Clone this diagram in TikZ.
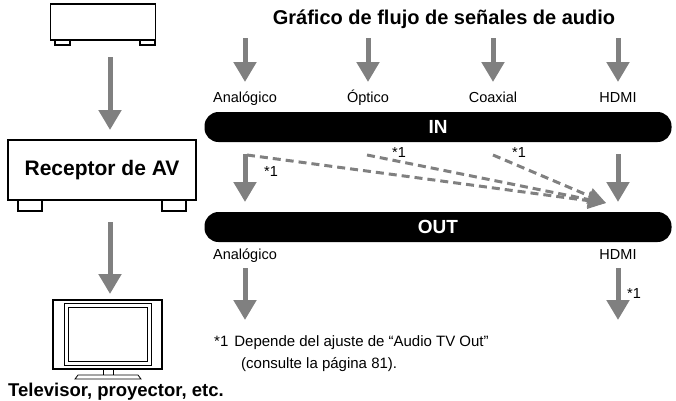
\documentclass[tikz,border=0pt]{standalone}
\usepackage{fontspec}
\setmainfont{Liberation Sans}
\usetikzlibrary{arrows.meta}
\definecolor{flowgray}{RGB}{128,128,128}
\tikzset{
  flow/.style={draw=flowgray,line width=5pt,-{Triangle[width=22pt,length=20pt]}},
  dflow/.style={draw=flowgray,line width=3pt,dash pattern=on 8pt off 5pt,-{Triangle[width=16pt,length=18pt]}},
  bar/.style={fill=black,rounded corners=14pt,minimum width=467pt,minimum height=30pt,text=white,font=\fontsize{19}{19}\bfseries\selectfont,inner sep=0pt},
  lbl/.style={font=\fontsize{14.5}{14.5}\selectfont,inner sep=1pt,anchor=base},
  box/.style={draw,line width=1.2pt,fill=white}
}
\begin{document}
\begin{tikzpicture}[x=1pt,y=-1pt]
\useasboundingbox (0,0) rectangle (676,400);
% devices
\draw[box] (55,40) rectangle (70,45);
\draw[box] (140,40) rectangle (155,45);
\node[box,minimum width=105pt,minimum height=36pt,inner sep=0pt] (src) at (103,22) {};
\draw[box] (18,200) rectangle (42,211);
\draw[box] (162,200) rectangle (186,211);
\node[box,minimum width=188pt,minimum height=60pt,inner sep=0pt,font=\fontsize{21}{21}\bfseries\selectfont] (rcv) at (102,170) {Receptor de AV};
\draw[box] (53,300) rectangle (162,369);
\draw[box,line width=0.8pt] (64,303) rectangle (151,365);
\draw[box,line width=0.8pt] (68,307) rectangle (147,361);
\draw[box,line width=0.8pt] (103,369) rectangle (113,375);
\draw[box,line width=0.8pt] (75,379) -- (78,375) -- (138,375) -- (141,379) -- cycle;
\node[font=\fontsize{18.5}{18.5}\bfseries\selectfont,anchor=base west,inner sep=0pt] (tv) at (8,396) {Televisor, proyector, etc.};
\coordinate (a1) at (110,57);
\coordinate (a2) at (110,130);
\coordinate (a3) at (110,222);
\coordinate (a4) at (110,294);
\draw[flow] (a1) -- (a2);
\draw[flow] (a3) -- (a4);
% flow chart
\node[font=\fontsize{20}{20}\bfseries\selectfont] (title) at (444,19) {Gráfico de flujo de señales de audio};
\node[bar] (in) at (438,127) {IN};
\node[bar] (out) at (438,227) {OUT};
\foreach \n/\x/\t in {ana/245/Analógico,opt/368/Óptico,coax/493/Coaxial,hdmi/618/HDMI}{
  \coordinate (\n top) at (\x,38);
  \coordinate (\n bot) at (\x,82);
  \draw[flow] (\n top) -- (\n bot);
  \node[lbl] (\n lbl) at (\x,102) {\t};
}
\coordinate (ana in) at (245,154);
\coordinate (ana out) at (245,202);
\coordinate (hdmi in) at (618,154);
\coordinate (hdmi out) at (618,202);
\draw[flow] (ana in) -- (ana out);
\draw[flow] (hdmi in) -- (hdmi out);
\coordinate (dtip) at (606,203);
\coordinate (d1) at (247,155);
\coordinate (d2) at (367,155);
\coordinate (d3) at (493,155);
\draw[dflow] (d1) -- (dtip);
\draw[dflow] (d2) -- (dtip);
\draw[dflow] (d3) -- (dtip);
\node[lbl] (s1) at (271,176) {*1};
\node[lbl] (s2) at (399,157) {*1};
\node[lbl] (s3) at (519,157) {*1};
\node[lbl] (oana) at (245,259) {Analógico};
\node[lbl] (ohdmi) at (618,259) {HDMI};
\coordinate (o1) at (245,268);
\coordinate (o2) at (245,320);
\coordinate (o3) at (618,268);
\coordinate (o4) at (618,320);
\draw[flow] (o1) -- (o2);
\draw[flow] (o3) -- (o4);
\node[lbl] (s4) at (634,298) {*1};
\node[lbl,anchor=base west,font=\fontsize{15}{15}\selectfont] (note1) at (213,346) {*1\hspace{6pt}Depende del ajuste de “Audio TV Out”};
\node[lbl,anchor=base west,font=\fontsize{15}{15}\selectfont] (note2) at (240,368) {(consulte la página 81).};
\end{tikzpicture}
\end{document}
